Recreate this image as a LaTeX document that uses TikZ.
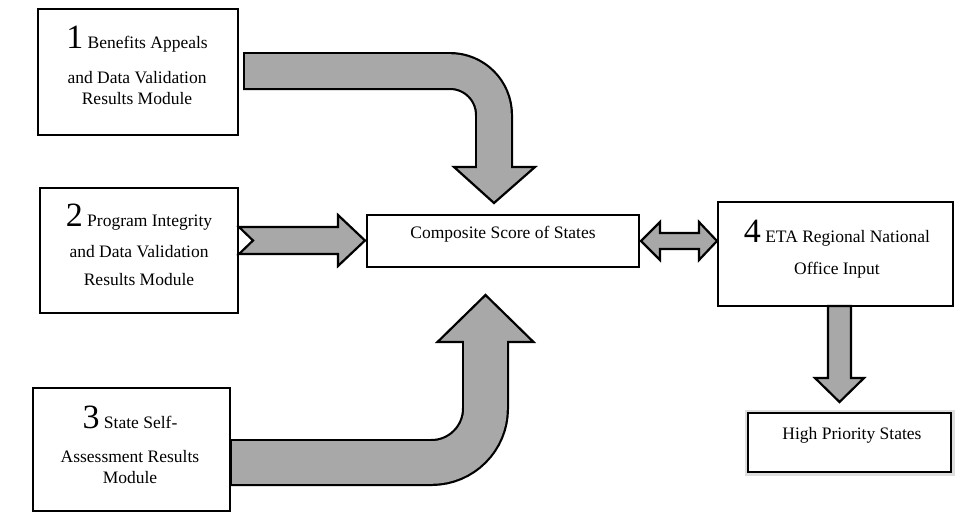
\documentclass[tikz,border=0pt]{standalone}
\usepackage{fontspec}
\setmainfont{Liberation Serif}
\usetikzlibrary{calc}
\definecolor{agray}{RGB}{168,168,168}
\definecolor{halo}{RGB}{222,222,222}
\newcommand{\bigdig}[1]{{\fontsize{34}{34}\selectfont #1}}
\begin{document}
\begin{tikzpicture}[x=1pt, y=-1pt,
  box/.style={draw=black, line width=1.8pt, fill=white, inner sep=0pt, outer sep=0pt},
  txt/.style={font=\fontsize{17.5}{21}\selectfont, align=center, inner sep=0pt},
  blockarrow/.style={fill=agray, draw=black, line width=2.2pt, line join=miter},
  shaftedge/.style={draw=black, line width=#1},
  shaftfill/.style={draw=agray, line width=#1}]
\useasboundingbox (0,0) rectangle (955,512);

% soft halo of the high-priority box
\draw[halo, line width=7pt] (748,413) rectangle (951,472);

% boxes
\node[box, minimum width=200pt, minimum height=126pt] (b1) at (138,72) {};
\node[box, minimum width=198pt, minimum height=125pt] (b2) at (139,250.5) {};
\node[box, minimum width=197pt, minimum height=123pt] (b3) at (131.5,449.5) {};
\node[box, minimum width=272pt, minimum height=52pt] (comp) at (503,241) {};
\node[box, minimum width=235pt, minimum height=104pt] (b4) at (835.5,254) {};
\node[box, minimum width=203pt, minimum height=59pt] (hp) at (849.5,442.5) {};

% texts
\node[txt] (t1) at (137,65.5) {\bigdig{1} Benefits Appeals\\[14pt] and Data Validation\\ Results Module};
\node[txt] (t2) at (139,245) {\bigdig{2} Program Integrity\\[10pt] and Data Validation\\[7pt] Results Module};
\node[txt] (t3) at (130,445) {\bigdig{3} State Self-\\[13pt] Assessment Results\\ Module};
\node[txt] (tc) at (503,234) {Composite Score of States};
\node[txt] (t4) at (837,249.5) {\bigdig{4} ETA Regional National\\[11pt] Office Input};
\node[txt] (thp) at (852,435) {High Priority States};

% arrow 1 : box 1 -> composite (bent)
\draw[shaftedge=38pt, rounded corners=44pt] ($(b1.east)+(5,-1)$) -| ($(comp.north)+(-9,-46)$);
\filldraw[blockarrow] (454,167) -- (535,167) -- (494,203) -- cycle;
\draw[shaftfill=33.6pt, rounded corners=44pt] ($(b1.east)+(7.2,-1)$) -| ($(comp.north)+(-9,-43.8)$);

% arrow 3 : box 3 -> composite (bent upward)
\draw[shaftedge=47pt, rounded corners=54pt] ($(b3.east)+(0,13)$) -| ($(comp.south)+(-17.5,75)$);
\filldraw[blockarrow] (437.5,342) -- (533.5,342) -- (485.5,295) -- cycle;
\draw[shaftfill=42.6pt, rounded corners=54pt] ($(b3.east)+(2.2,13)$) -| ($(comp.south)+(-17.5,72.8)$);

% arrow 2 : box 2 -> composite (notched)
\filldraw[blockarrow] (239,227) -- (338,227) -- (338,215) -- (365,240.5) -- (338,266)
  -- (338,254) -- (239,254) -- (253,240.5) -- cycle;

% double arrow : composite <-> box 4
\filldraw[blockarrow] (641,241) -- (660,222) -- (660,233) -- (699,233) -- (699,222)
  -- (717,241) -- (699,260) -- (699,249) -- (660,249) -- (660,260) -- cycle;

% arrow 4 : box 4 -> high priority
\filldraw[blockarrow] (828,306) -- (828,378) -- (815,378) -- (839.5,402) -- (864,378)
  -- (851,378) -- (851,306) -- cycle;
\end{tikzpicture}
\end{document}
